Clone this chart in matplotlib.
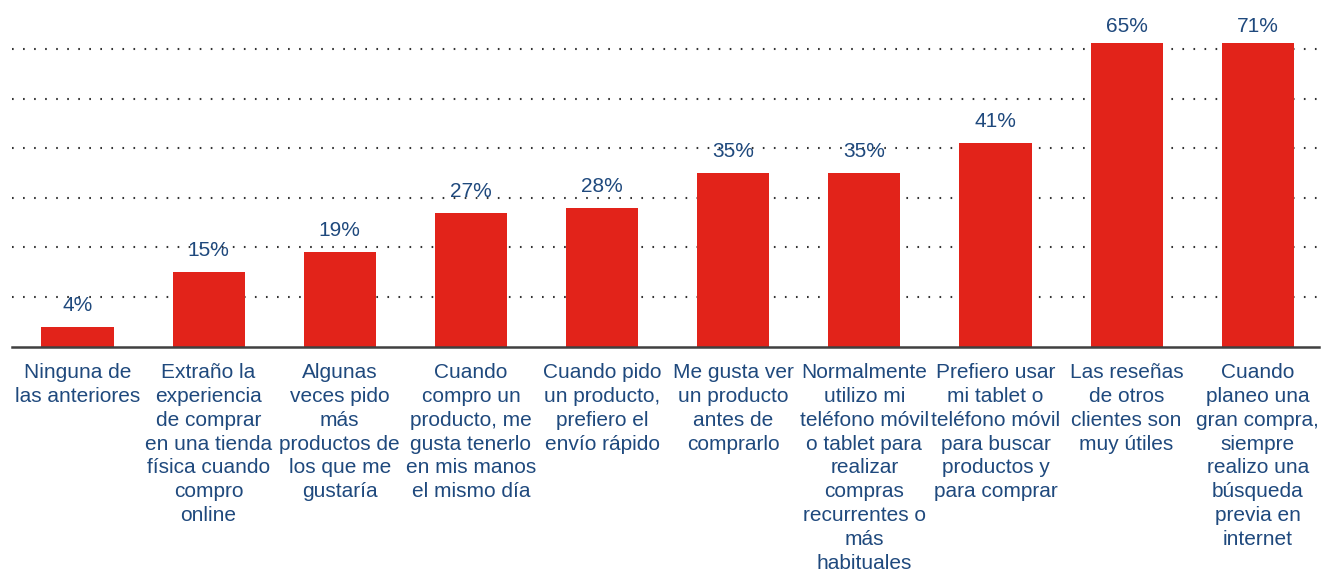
import matplotlib.pyplot as plt

plt.rcParams['font.family'] = ['Liberation Sans', 'DejaVu Sans']

# Porcentaje de encuestados por afirmación
categorias = [
    "Ninguna de\nlas anteriores",
    "Extraño la\nexperiencia\nde comprar\nen una tienda\nfísica cuando\ncompro\nonline",
    "Algunas\nveces pido\nmás\nproductos de\nlos que me\ngustaría",
    "Cuando\ncompro un\nproducto, me\ngusta tenerlo\nen mis manos\nel mismo día",
    "Cuando pido\nun producto,\nprefiero el\nenvío rápido",
    "Me gusta ver\nun producto\nantes de\ncomprarlo",
    "Normalmente\nutilizo mi\nteléfono móvil\no tablet para\nrealizar\ncompras\nrecurrentes o\nmás\nhabituales",
    "Prefiero usar\nmi tablet o\nteléfono móvil\npara buscar\nproductos y\npara comprar",
    "Las reseñas\nde otros\nclientes son\nmuy útiles",
    "Cuando\nplaneo una\ngran compra,\nsiempre\nrealizo una\nbúsqueda\nprevia en\ninternet",
]
valores = [4, 15, 19, 27, 28, 35, 35, 41, 65, 71]
lineas_guia = [10, 20, 30, 40, 50, 60]

rojo = "#E2231A"
azul = "#1F497D"
y_max = 61.2

fig = plt.figure(figsize=(13.22, 5.76), dpi=100)
ax = fig.add_axes([0.009, 0.3984, 0.989, 0.5269])

x = list(range(len(valores)))
ax.bar(x, valores, width=0.55, color=rojo, zorder=3)

for y in lineas_guia:
    ax.axhline(y, color="#333333", linewidth=1.5, linestyle=(0, (0.8, 4.5)), zorder=1)

# etiquetas de valor encima de cada barra (las barras altas quedan recortadas)
for xi, v in zip(x, valores):
    recortada = v > y_max
    ax.annotate(f"{v}%", (xi, min(v, y_max)), xytext=(0, 5 if recortada else 8.5),
                textcoords="offset points", ha="center", va="bottom",
                fontsize=15, color=azul, annotation_clip=False)

ax.set_xlim(-0.5, 9.47)
ax.set_ylim(0, y_max)
ax.set_xticks(x)
ax.set_xticklabels(categorias, fontsize=15, color=azul, linespacing=1.32)
ax.tick_params(axis="x", length=0, pad=12)
ax.set_yticks([])

for lado in ["top", "right", "left"]:
    ax.spines[lado].set_visible(False)
ax.spines["bottom"].set_color("#404040")
ax.spines["bottom"].set_linewidth(1.8)
ax.spines["bottom"].set_zorder(4)

fig.savefig("out.png", dpi=100)
